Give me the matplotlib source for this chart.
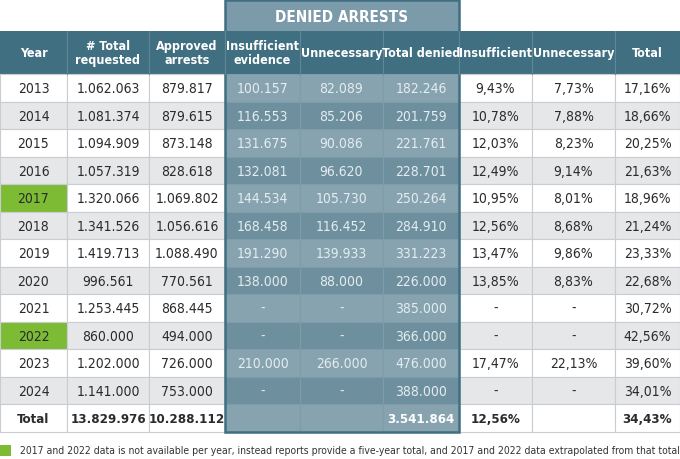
import matplotlib.pyplot as plt
from matplotlib.patches import Rectangle

plt.rcParams['font.family'] = ['DejaVu Sans']
plt.rcParams['font.stretch'] = 'condensed'

# Table data
years = ['2013', '2014', '2015', '2016', '2017', '2018', '2019', '2020',
         '2021', '2022', '2023', '2024', 'Total']
total_requested = ['1.062.063', '1.081.374', '1.094.909', '1.057.319', '1.320.066',
                   '1.341.526', '1.419.713', '996.561', '1.253.445', '860.000',
                   '1.202.000', '1.141.000', '13.829.976']
approved = ['879.817', '879.615', '873.148', '828.618', '1.069.802', '1.056.616',
            '1.088.490', '770.561', '868.445', '494.000', '726.000', '753.000',
            '10.288.112']
denied_insufficient = ['100.157', '116.553', '131.675', '132.081', '144.534', '168.458',
                       '191.290', '138.000', '-', '-', '210.000', '-', '']
denied_unnecessary = ['82.089', '85.206', '90.086', '96.620', '105.730', '116.452',
                      '139.933', '88.000', '-', '-', '266.000', '-', '']
denied_total = ['182.246', '201.759', '221.761', '228.701', '250.264', '284.910',
                '331.223', '226.000', '385.000', '366.000', '476.000', '388.000',
                '3.541.864']
pct_insufficient = ['9,43%', '10,78%', '12,03%', '12,49%', '10,95%', '12,56%', '13,47%',
                    '13,85%', '-', '-', '17,47%', '-', '12,56%']
pct_unnecessary = ['7,73%', '7,88%', '8,23%', '9,14%', '8,01%', '8,68%', '9,86%',
                   '8,83%', '-', '-', '22,13%', '-', '']
pct_total = ['17,16%', '18,66%', '20,25%', '21,63%', '18,96%', '21,24%', '23,33%',
             '22,68%', '30,72%', '42,56%', '39,60%', '34,01%', '34,43%']
headers = ['Year', '# Total\nrequested', 'Approved\narrests', 'Insufficient\nevidence',
           'Unnecessary', 'Total denied', 'Insufficient', 'Unnecessary', 'Total']
extrapolated = ['2017', '2022']
footnote = ('2017 and 2022 data is not available per year, instead reports provide a '
            'five-year total, and 2017 and 2022 data extrapolated from that total')

columns = [years, total_requested, approved, denied_insufficient, denied_unnecessary,
           denied_total, pct_insufficient, pct_unnecessary, pct_total]

# Layout (pixels)
col_edges = [0, 67, 149, 225, 300, 383, 459, 532, 615, 680]
head_top, head_bot = 32, 75
row_h = 27.5
band = (3, 6)  # denied-arrests columns

DARK = '#3f6f80'
GREEN = '#7dbb35'
GREY = '#e5e7e9'
BAND_LIGHT = '#87a3b0'
BAND_DARK = '#6e8f9e'
BAND_TEXT = '#e4ecef'

fig = plt.figure(figsize=(6.8, 4.6), dpi=100)
ax = fig.add_axes([0, 0, 1, 1])
ax.set_xlim(0, 680)
ax.set_ylim(460, 0)
ax.axis('off')

# super header
ax.add_patch(Rectangle((col_edges[3], 1), col_edges[6] - col_edges[3], head_top - 1,
                       facecolor='#7b9aaa', edgecolor='none'))
ax.text((col_edges[3] + col_edges[6]) / 2, 17, 'DENIED ARRESTS', ha='center', va='center',
        color='white', fontsize=11, fontweight='bold')

# header row
ax.add_patch(Rectangle((0, head_top), 680, head_bot - head_top, facecolor=DARK,
                       edgecolor='none'))
for j, h in enumerate(headers):
    ax.text((col_edges[j] + col_edges[j + 1]) / 2, (head_top + head_bot) / 2, h,
            ha='center', va='center', color='white', fontsize=9, fontweight='bold',
            linespacing=1.1)

# body
n = len(years)
for i in range(n):
    y0 = head_bot + i * row_h
    is_total = years[i] == 'Total'
    stripe = GREY if i % 2 == 1 else 'white'
    for j, col in enumerate(columns):
        x0, x1 = col_edges[j], col_edges[j + 1]
        in_band = band[0] <= j < band[1]
        if in_band:
            fc = BAND_DARK if i % 2 == 1 else BAND_LIGHT
            tc = 'white' if is_total else BAND_TEXT
        else:
            fc = stripe
            tc = '#2b2b2b'
        if j == 0 and years[i] in extrapolated:
            fc = GREEN
        ax.add_patch(Rectangle((x0, y0), x1 - x0, row_h, facecolor=fc,
                               edgecolor='#c9cdd1' if not in_band else '#7f9cab',
                               linewidth=0.8))
        ax.text((x0 + x1) / 2, y0 + row_h / 2 + 0.5, col[i], ha='center', va='center',
                color=tc, fontsize=9.5 if is_total else 10,
                fontweight='bold' if is_total else 'normal')

# vertical separators in header
for x in col_edges[1:-1]:
    ax.plot([x, x], [head_top, head_bot], color='#5f8796', lw=0.8)

# band frame
bottom = head_bot + n * row_h
ax.add_patch(Rectangle((col_edges[3], 1), col_edges[6] - col_edges[3], bottom - 1,
                       facecolor='none', edgecolor=DARK, linewidth=1.8))

# footnote
ax.add_patch(Rectangle((0, 446), 11, 11, facecolor=GREEN, edgecolor='none'))
ax.text(20, 451.5, footnote, ha='left', va='center', fontsize=7.5, color='#333333')

fig.savefig('out.png', dpi=100)
